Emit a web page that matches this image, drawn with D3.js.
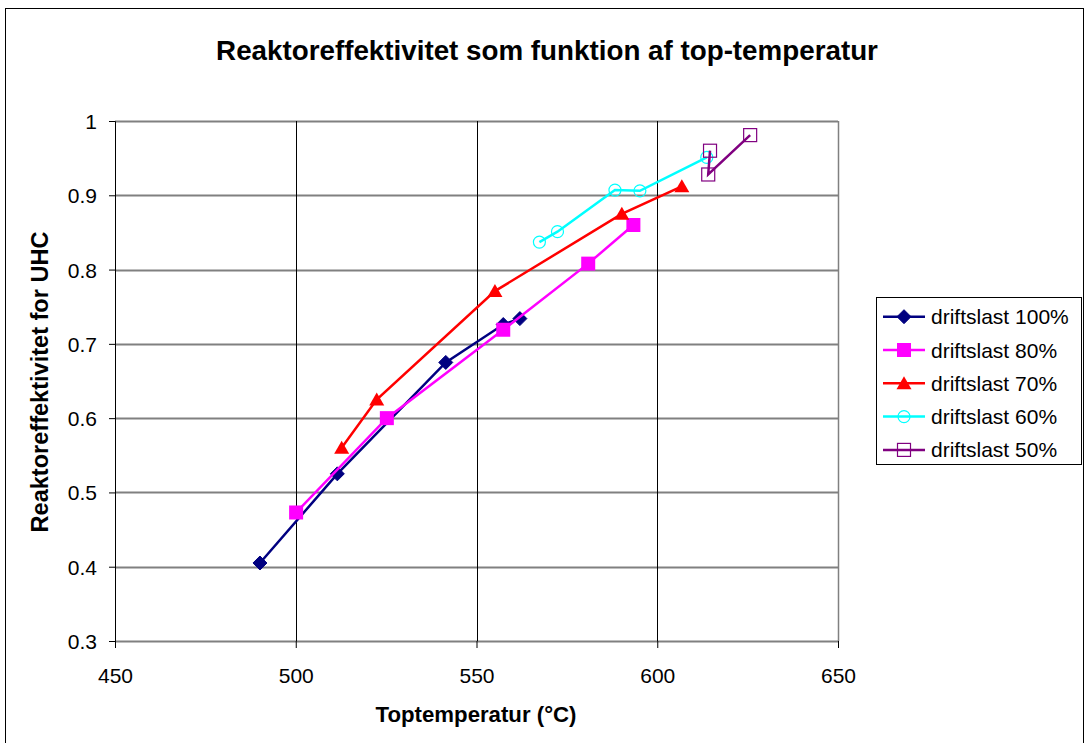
<!DOCTYPE html>
<html><head><meta charset="utf-8">
<script src="https://cdn.jsdelivr.net/npm/d3@7"></script>
<style>body{margin:0;background:#fff}svg{display:block}text{font-family:"Liberation Sans",Arial,sans-serif}</style>
</head><body><svg id="c" width="1087" height="743"></svg>
<script>
const xTicks = [450, 500, 550, 600, 650];
const yTicks = [0.3, 0.4, 0.5, 0.6, 0.7, 0.8, 0.9, 1];
const seriesNames = ["driftslast 100%", "driftslast 80%", "driftslast 70%", "driftslast 60%", "driftslast 50%"];
const s100x = [490.1, 511.5, 541.5, 557.4, 562.0];
const s100y = [0.405, 0.525, 0.675, 0.726, 0.734];
const s80x = [500.1, 525.2, 557.4, 580.9, 593.4];
const s80y = [0.473, 0.600, 0.719, 0.808, 0.860];
const s70x = [512.7, 522.4, 555.1, 590.2, 606.8];
const s70y = [0.560, 0.625, 0.771, 0.875, 0.912];
const s60x = [567.4, 572.4, 588.3, 595.2, 613.7];
const s60y = [0.837, 0.851, 0.907, 0.906, 0.951];
const s50x = [614.6, 614.1, 625.7];
const s50y = [0.960, 0.928, 0.981];

const colors = ["#000080", "#FF00FF", "#FF0000", "#00FFFF", "#800080"];
const markers = ["diamond", "square", "triangle", "circle", "opensquare"];
const xs = [s100x, s80x, s70x, s60x, s50x];
const ys = [s100y, s80y, s70y, s60y, s50y];

const svg = d3.select("#c");
const X0 = 115, X1 = 838, Y0 = 641, Y1 = 121;
const x = d3.scaleLinear().domain([450, 650]).range([X0, X1]);
const y = d3.scaleLinear().domain([0.3, 1]).range([Y0, Y1]);

// size a text element so that its rendered width matches a target width
function fitWidth(sel, target) {
  sel.attr("font-size", 100);
  const w = sel.node().getComputedTextLength();
  sel.attr("font-size", 100 * target / w);
}

// outer frame
svg.append("rect").attr("x", 5.5).attr("y", 8.5).attr("width", 1078).attr("height", 760)
  .attr("fill", "#fff").attr("stroke", "#000").attr("stroke-width", 1);

// title
const title = svg.append("text").attr("x", 547).attr("y", 60).attr("text-anchor", "middle")
  .attr("font-weight", "bold").text("Reaktoreffektivitet som funktion af top-temperatur");
fitWidth(title, 662);

// horizontal gridlines
svg.append("g").selectAll("line").data(yTicks).join("line")
  .attr("x1", X0).attr("x2", X1).attr("y1", d => Math.round(y(d)) + 0.5).attr("y2", d => Math.round(y(d)) + 0.5)
  .attr("stroke", "#808080").attr("stroke-width", 2);
// vertical gridlines
svg.append("g").selectAll("line").data(xTicks.slice(1, -1)).join("line")
  .attr("y1", Y1).attr("y2", Y0).attr("x1", d => Math.round(x(d)) + 0.5).attr("x2", d => Math.round(x(d)) + 0.5)
  .attr("stroke", "#000").attr("stroke-width", 1);
// right edge of plot
svg.append("line").attr("x1", X1 + 0.5).attr("x2", X1 + 0.5).attr("y1", Y1).attr("y2", Y0)
  .attr("stroke", "#808080").attr("stroke-width", 1.5);

// axes
const xAxis = d3.axisBottom(x).tickValues(xTicks).tickSize(7).tickFormat(d3.format("d"));
const yAxis = d3.axisLeft(y).tickValues(yTicks).tickSize(6).tickFormat(d => d === 1 ? "1" : d3.format(".1f")(d));
const gx = svg.append("g").attr("transform", `translate(0,${Y0})`).call(xAxis);
const gy = svg.append("g").attr("transform", `translate(${X0},0)`).call(yAxis);
[gx, gy].forEach(g => {
  g.select(".domain").attr("stroke", "#000").attr("stroke-width", 1);
  g.selectAll(".tick line").attr("stroke", "#000");
  g.selectAll("text").attr("font-size", 21).attr("fill", "#000").attr("font-family", '"Liberation Sans",Arial,sans-serif');
});
gx.select(".domain").remove();
gx.selectAll("text").attr("y", 0).attr("dy", 0).attr("transform", "translate(0,42)");
gy.selectAll("text").attr("x", -18).attr("dy", "0.36em");

// axis titles
const xt = svg.append("text").attr("x", 476).attr("y", 722).attr("text-anchor", "middle")
  .attr("font-weight", "bold").text("Toptemperatur (°C)");
fitWidth(xt, 201);
const yt = svg.append("text").attr("transform", "translate(48,382) rotate(-90)").attr("text-anchor", "middle")
  .attr("font-weight", "bold").text("Reaktoreffektivitet for UHC");
fitWidth(yt, 301);

function drawMarker(g, type, color) {
  if (type === "diamond") g.append("path").attr("d", "M0,-7L7,0L0,7L-7,0Z").attr("fill", color).attr("stroke", color);
  else if (type === "square") g.append("rect").attr("x", -7).attr("y", -7).attr("width", 14).attr("height", 14).attr("fill", color);
  else if (type === "triangle") g.append("path").attr("d", "M0,-7L7.5,6L-7.5,6Z").attr("fill", color);
  else if (type === "circle") g.append("circle").attr("r", 6).attr("fill", "none").attr("stroke", color).attr("stroke-width", 1.2);
  else if (type === "opensquare") g.append("rect").attr("x", -6.5).attr("y", -6.5).attr("width", 13).attr("height", 13).attr("fill", "none").attr("stroke", color).attr("stroke-width", 1.2);
}

const line = d3.line().x(d => x(d[0])).y(d => y(d[1]));
xs.forEach((sx, i) => {
  const pts = sx.map((v, j) => [v, ys[i][j]]);
  svg.append("path").attr("d", line(pts)).attr("fill", "none").attr("stroke", colors[i]).attr("stroke-width", 2.5);
  pts.forEach(p => {
    const g = svg.append("g").attr("transform", `translate(${x(p[0])},${y(p[1])})`);
    drawMarker(g, markers[i], colors[i]);
  });
});

// legend
const lg = svg.append("g");
lg.append("rect").attr("x", 876.5).attr("y", 297.5).attr("width", 205).attr("height", 167)
  .attr("fill", "#fff").attr("stroke", "#000").attr("stroke-width", 1);
seriesNames.forEach((n, i) => {
  const cy = 316.7 + i * 33.3;
  lg.append("line").attr("x1", 883).attr("x2", 925).attr("y1", cy).attr("y2", cy).attr("stroke", colors[i]).attr("stroke-width", 2.5);
  drawMarker(lg.append("g").attr("transform", `translate(904,${cy})`), markers[i], colors[i]);
  lg.append("text").attr("x", 931).attr("y", cy + 7.5).attr("font-size", 21).text(n);
});
</script></body></html>
